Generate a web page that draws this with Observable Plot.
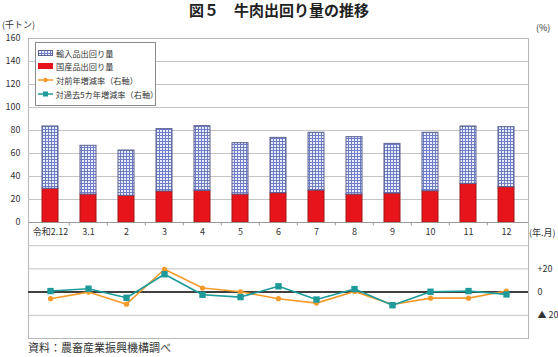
<!DOCTYPE html>
<html><head><meta charset="utf-8">
<script src="https://cdn.jsdelivr.net/npm/d3@7"></script>
<script src="https://cdn.jsdelivr.net/npm/@observablehq/plot@0.6"></script>
<style>
body{margin:0;background:#fff;font-family:'Noto Sans CJK JP','Noto Sans',sans-serif;}
#wrap{position:relative;width:558px;height:357px;overflow:hidden;background:#fff}
.abs{position:absolute;white-space:nowrap;color:#333;line-height:1}
#legend{position:absolute;left:35px;top:42px;width:119px;height:62px;border:1px solid #8a8a8a;background:#fff;font-size:8.2px;color:#333}
#legend .row{position:absolute;left:2px;height:10px;display:flex;align-items:center}
#legend svg{margin-right:3px}
</style></head><body>
<div id="wrap">
  <div class="abs" style="left:0;width:558px;text-align:center;top:2px;font-size:15px;font-weight:bold;color:#222">図５　牛肉出回り量の推移</div>
  <div class="abs" style="left:2px;top:20px;font-size:9px">(千トン)</div>
  <div class="abs" style="left:536px;top:23px;font-size:9px">(%)</div>
  <div class="abs" style="left:529px;top:228px;font-size:9px">(年.月)</div>
  <div class="abs" style="left:28px;top:342px;font-size:11px">資料：農畜産業振興機構調べ</div>
  <div id="lower" class="abs" style="left:0;top:222px"></div>
  <div id="upper" class="abs" style="left:0;top:0"></div>
  <div id="legend">
    <div class="row" style="top:5px"><svg width="15" height="6"><rect x="0.5" y="0.5" width="14" height="5" fill="url(#imp)" stroke="#5a6190"/></svg>輸入品出回り量</div>
    <div class="row" style="top:18px"><svg width="15" height="6"><rect x="0" y="0" width="15" height="6" fill="#e8141b"/></svg>国産品出回り量</div>
    <div class="row" style="top:32px"><svg width="15" height="6"><line x1="0" y1="3" x2="15" y2="3" stroke="#f39a2b" stroke-width="1.5"/><circle cx="7.5" cy="3" r="2.2" fill="#f39a2b"/></svg>対前年増減率（右軸）</div>
    <div class="row" style="top:46px"><svg width="15" height="6"><line x1="0" y1="3" x2="15" y2="3" stroke="#1e9a9a" stroke-width="1.5"/><rect x="5" y="0.5" width="5" height="5" fill="#1e9a9a"/></svg>対過去5カ年増減率（右軸）</div>
  </div>
</div>
<script>
const categories = ["令和2.12","3.1","2","3","4","5","6","7","8","9","10","11","12"];
const domestic = [29.3, 24.3, 23.2, 27.0, 27.5, 24.3, 25.5, 27.8, 24.3, 25.2, 27.2, 33.6, 30.7];
const imported = [54.2, 42.4, 39.4, 54.2, 56.3, 44.7, 48.1, 50.2, 49.9, 43.2, 50.8, 49.9, 52.2];
const yoy      = [-5.7, 0.0, -10.4, 19.7, 3.5, 0.3, -5.7, -9.5, 0.6, -10.7, -5.2, -5.2, 0.9];
const fiveYr   = [0.9, 2.9, -4.9, 15.4, -2.3, -4.3, 5.0, -6.4, 2.6, -11.3, 0.3, 0.9, -2.0];
const leftTicks = [0,20,40,60,80,100,120,140,160];
const rightTicks = [-20,0,20];

const rows = categories.map((c,i)=>({c, dom: domestic[i], imp: imported[i], top: domestic[i]+imported[i], yoy: yoy[i], five: fiveYr[i]}));

const W = 558, ML = 28, MR = 30;
const step = (W - ML - MR) / categories.length;
const font = "'Noto Sans CJK JP','Noto Sans',sans-serif";
const xOpts = {domain: categories, paddingInner: 0.59, paddingOuter: 0.295, axis: null};

const upper = Plot.plot({
  width: W, height: 245, marginLeft: ML, marginRight: MR, marginTop: 38, marginBottom: 23,
  style: {fontFamily: font, fontSize: "9px", color: "#333", background: "transparent", overflow: "visible"},
  x: xOpts,
  y: {domain: [0,160], axis: null},
  marks: [
    Plot.ruleY(leftTicks.slice(1), {stroke: "#c4c4c4"}),
    Plot.frame({stroke: "#b8b8b8"}),
    Plot.barY(rows, {x: "c", y1: 0, y2: "dom", fill: "#e8141b", stroke: "#a01818", strokeWidth: 1}),
    Plot.barY(rows, {x: "c", y1: "dom", y2: "top", fill: "url(#imp)", stroke: "#5a6190", strokeWidth: 1}),
    Plot.ruleY([0], {stroke: "#999"}),
    Plot.ruleX(categories.slice(1), {y1: 0, y2: -3, dx: -step/2, stroke: "#999"}),
    Plot.axisY({ticks: leftTicks, tickSize: 0, tickPadding: 8, fontSize: 9, label: null, anchor: "left"}),
    Plot.axisX({tickSize: 0, tickPadding: 6, fontSize: 9, label: null, anchor: "bottom"})
  ]
});
const ns = "http://www.w3.org/2000/svg";
const defs = document.createElementNS(ns, "defs");
defs.innerHTML = '<pattern id="imp" width="3" height="3" patternUnits="userSpaceOnUse"><rect width="3" height="3" fill="#e9ecf9"/><path d="M0 0.5H3M0.5 0V3" stroke="#6f7cc6" stroke-width="1"/></pattern>';
upper.prepend(defs);
document.getElementById("upper").appendChild(upper);

const lower = Plot.plot({
  width: W, height: 121, marginLeft: ML, marginRight: MR, marginTop: 0, marginBottom: 5,
  style: {fontFamily: font, fontSize: "9px", color: "#333", background: "transparent", overflow: "visible"},
  x: xOpts,
  y: {domain: [-40,60], axis: null},
  marks: [
    Plot.ruleY([-40,-20,20,40], {stroke: "#c4c4c4"}),
    Plot.frame({stroke: "#b8b8b8"}),
    Plot.ruleY([0], {stroke: "#404040", strokeWidth: 2}),
    Plot.lineY(rows, {x: "c", y: "yoy", stroke: "#f39a2b", strokeWidth: 1.6}),
    Plot.dot(rows, {x: "c", y: "yoy", r: 2.6, fill: "#f39a2b", stroke: "none"}),
    Plot.lineY(rows, {x: "c", y: "five", stroke: "#1e9a9a", strokeWidth: 1.6}),
    Plot.dot(rows, {x: "c", y: "five", r: 3.6, symbol: "square", fill: "#1e9a9a", stroke: "none"}),
    Plot.axisY({ticks: rightTicks, anchor: "right", tickSize: 0, tickPadding: 9, fontSize: 9, label: null,
      tickFormat: d => d > 0 ? "+" + d : d < 0 ? "▲ " + (-d) : "0"})
  ]
});
document.getElementById("lower").appendChild(lower);
</script>
</body></html>
